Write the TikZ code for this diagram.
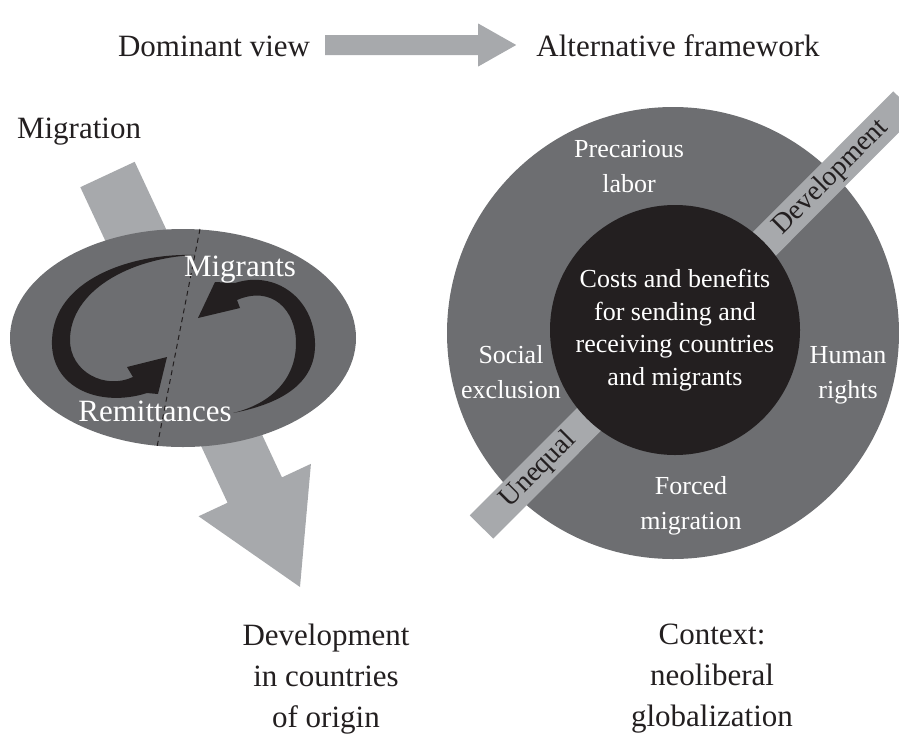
\documentclass[tikz,border=0pt]{standalone}
\usepackage{fontspec}
\setmainfont{Liberation Serif}
\usetikzlibrary{calc,shapes.geometric}

\definecolor{arrowgray}{HTML}{A7A9AC}
\definecolor{discgray}{HTML}{6D6E71}
\definecolor{ink}{HTML}{231F20}

\tikzset{
  biglabel/.style={font=\fontsize{31}{41}\selectfont, text=ink, align=center, inner sep=0pt},
  whitelabel/.style={font=\fontsize{26}{35}\selectfont, text=white, align=center, inner sep=0pt},
  bandlabel/.style={font=\fontsize{28}{30}\selectfont, text=ink, inner sep=0pt, rotate=45},
}

% tail, tip, half shaft, half head, head length
\newcommand{\fatarrow}[5]{%
  \coordinate (fa-c) at ($(#2)!#5!(#1)$);
  \fill[arrowgray] ($(#1)!#3!90:(#2)$) -- ($(fa-c)!#3!90:(#2)$) -- ($(fa-c)!#4!90:(#2)$) -- (#2)
    -- ($(fa-c)!#4!-90:(#2)$) -- ($(fa-c)!#3!-90:(#2)$) -- ($(#1)!#3!-90:(#2)$) -- cycle;
}

\begin{document}
\begin{tikzpicture}[x=1pt, y=-1pt]
\useasboundingbox (0,0) rectangle (899,734);

% top row
\node[biglabel, anchor=base] (dominant) at (214,56) {Dominant view};
\node[biglabel, anchor=base] (alternative) at (678,56) {Alternative framework};
\coordinate (viewtail) at ([xshift=15pt]dominant.east |- 0,45);
\coordinate (viewtip) at ([xshift=-20pt]alternative.west |- 0,45);
\fatarrow{viewtail}{viewtip}{10pt}{21.5pt}{38pt}

% left: dominant view
\node[biglabel, anchor=base] (migration) at (79,138) {Migration};
\coordinate (migtail) at (107.5,174.5);
\coordinate (migtip) at (300,587);
\fatarrow{migtail}{migtip}{30pt}{62pt}{107pt}
\node[ellipse, fill=discgray, minimum width=346pt, minimum height=218pt, inner sep=0pt] (loop) at (183,338) {};

% the two swirls
\fill[ink] (195,255) .. controls (130,253) and (54,280) .. (52,340)
  .. controls (50,388) and (100,408) .. (147,393)
  -- (158,394) -- (167,357) -- (127,367) -- (133,377)
  .. controls (105,390) and (70,372) .. (70,340)
  .. controls (70,292) and (128,258) .. (195,255) -- cycle;
\fill[ink] (233,413) .. controls (290,402) and (316,378) .. (315,343)
  .. controls (314,298) and (275,270) .. (235,283)
  -- (215,282) -- (198,318) -- (240,308) -- (237,300)
  .. controls (272,285) and (296,310) .. (296,343)
  .. controls (296,380) and (270,404) .. (233,413) -- cycle;

\coordinate (cuttop) at (200,229);
\coordinate (cutbot) at (157,447);
\draw[ink, line width=1pt, dash pattern=on 5pt off 4pt] (cuttop) -- (cutbot);

\node[biglabel, text=white, anchor=base] (migrants) at (240,276) {Migrants};
\node[biglabel, text=white, anchor=base] (remittances) at (155,421) {Remittances};
\node[biglabel] (origin) at (326,679) {Development\\in countries\\of origin};

% right: alternative framework
\node[circle, fill=discgray, minimum size=452pt, inner sep=0pt] (context) at (673,333) {};
\coordinate (bandlow) at (481.5,527);
\coordinate (bandhigh) at (905,103);
\draw[arrowgray, line width=33pt] (bandlow) -- (bandhigh);
\node[circle, fill=ink, minimum size=250pt, inner sep=0pt] (core) at (675,330) {};
\node[bandlabel] (devband) at ($(bandlow)!0.825!(bandhigh)$) {Development};
\node[bandlabel] (uneqband) at ($(bandlow)!0.135!(bandhigh)$) {Unequal};

\node[whitelabel, font=\fontsize{26}{32.5}\selectfont] (costs) at (core) {Costs and benefits\\for sending and\\receiving countries\\and migrants};
\node[whitelabel] (precarious) at (629,167) {Precarious\\labor};
\node[whitelabel] (exclusion) at (511,372) {Social\\exclusion};
\node[whitelabel] (rights) at (848,375) {Human\\rights};
\node[whitelabel] (forced) at (691,506) {Forced\\migration};
\node[biglabel] (neoliberal) at (712,679) {Context:\\neoliberal\\globalization};
\end{tikzpicture}
\end{document}
